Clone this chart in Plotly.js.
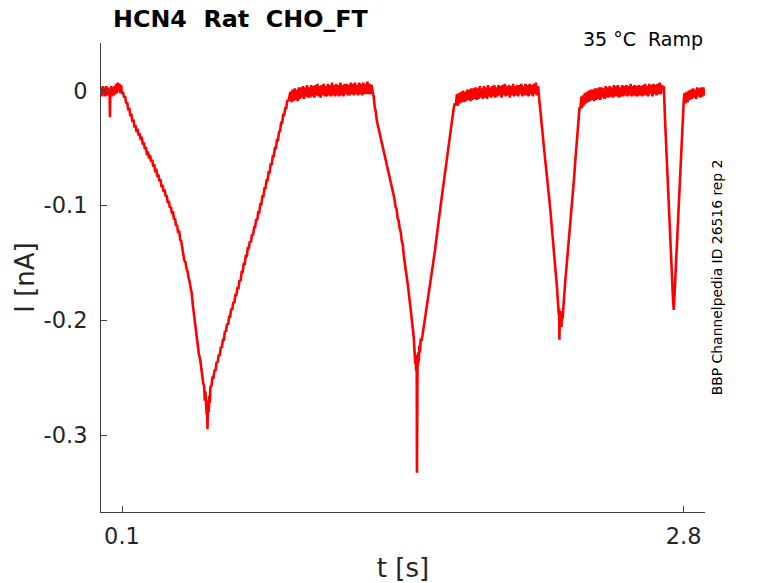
<!DOCTYPE html>
<html>
<head>
<meta charset="utf-8">
<script src="https://cdn.plot.ly/plotly-3.0.1.min.js"></script>
<style>html,body{margin:0;padding:0;background:#fff;}#chart{width:778px;height:583px;}</style>
</head>
<body>
<div id="chart"></div>
<script>
// ---- data (t in s, I in nA) ----
var baseT = [0.000,0.004,0.008,0.012,0.016,0.020,0.024,0.028,0.032,0.036,0.040,0.042,0.044,0.048,0.052,0.056,0.060,0.064,0.068,0.072,0.076,0.080,0.084,0.088,0.092,0.096,0.100];
var baseI = [0.003,-0.005,0.004,-0.004,0.003,-0.005,0.004,-0.004,0.003,-0.003,0.002,-0.023,-0.003,0.004,-0.005,0.003,-0.004,0.004,-0.003,0.006,-0.002,0.007,0.000,0.006,-0.002,0.005,-0.003];

var ramp1T = [0.105,0.110,0.115,0.120,0.125,0.130,0.135,0.140,0.145,0.150,0.155,0.160,0.165,0.170,0.175,0.180,0.185,0.190,0.195,0.200,0.205,0.210,0.215,0.220,0.225,0.230,0.235,0.240,0.245,0.250,0.255,0.260,0.265,0.270,0.275,0.280,0.285,0.290,0.295,0.300,0.305,0.310,0.315,0.320,0.325,0.330,0.335,0.340,0.345,0.350,0.355,0.360,0.365,0.370,0.375,0.380,0.385,0.390,0.395,0.400,0.405,0.410,0.415,0.420,0.425,0.430,0.435,0.440,0.445,0.450,0.455,0.460,0.465,0.470,0.475,0.480,0.485,0.490,0.495,0.498,0.501,0.503,0.505,0.507,0.509,0.511,0.513,0.515,0.517,0.519,0.522,
 0.525,0.530,0.535,0.540,0.545,0.550,0.555,0.560,0.565,0.570,0.575,0.580,0.585,0.590,0.595,0.600,0.605,0.610,0.615,0.620,0.625,0.630,0.635,0.640,0.645,0.650,0.655,0.660,0.665,0.670,0.675,0.680,0.685,0.690,0.695,0.700,0.705,0.710,0.715,0.720,0.725,0.730,0.735,0.740,0.745,0.750,0.755,0.760,0.765,0.770,0.775,0.780,0.785,0.790,0.795,0.800,0.805,0.810,0.815,0.820,0.825,0.830,0.835,0.840,0.845,0.850,0.855,0.860,0.865,0.870,0.875,0.880,0.885,0.890,0.895,0.900,0.905];
var ramp1I = [-0.001,-0.006,-0.005,-0.011,-0.010,-0.017,-0.015,-0.022,-0.020,-0.027,-0.025,-0.032,-0.030,-0.036,-0.033,-0.039,-0.037,-0.043,-0.040,-0.047,-0.045,-0.051,-0.049,-0.056,-0.053,-0.059,-0.056,-0.062,-0.060,-0.066,-0.064,-0.071,-0.068,-0.075,-0.073,-0.079,-0.077,-0.084,-0.082,-0.088,-0.086,-0.092,-0.091,-0.098,-0.096,-0.102,-0.101,-0.107,-0.105,-0.112,-0.111,-0.118,-0.117,-0.124,-0.122,-0.130,-0.131,-0.139,-0.143,-0.148,-0.149,-0.155,-0.157,-0.163,-0.166,-0.172,-0.176,-0.186,-0.193,-0.204,-0.208,-0.218,-0.222,-0.230,-0.233,-0.242,-0.246,-0.254,-0.258,-0.270,-0.262,-0.276,-0.268,-0.282,-0.274,-0.295,-0.278,-0.270,-0.280,-0.266,-0.272,
 -0.258,-0.257,-0.250,-0.250,-0.243,-0.244,-0.236,-0.237,-0.230,-0.231,-0.223,-0.224,-0.217,-0.217,-0.209,-0.210,-0.203,-0.204,-0.197,-0.197,-0.190,-0.191,-0.184,-0.185,-0.178,-0.178,-0.172,-0.172,-0.165,-0.166,-0.158,-0.158,-0.151,-0.151,-0.144,-0.144,-0.137,-0.137,-0.131,-0.132,-0.125,-0.126,-0.119,-0.119,-0.112,-0.113,-0.106,-0.106,-0.099,-0.099,-0.092,-0.092,-0.085,-0.085,-0.078,-0.078,-0.071,-0.071,-0.064,-0.064,-0.057,-0.057,-0.050,-0.050,-0.043,-0.043,-0.036,-0.035,-0.028,-0.028,-0.021,-0.021,-0.015,-0.015,-0.008,-0.009,-0.003];

var plat1T = [0.910,0.915,0.920,0.925,0.930,0.935,0.940,0.945,0.950,0.955,0.960,0.965,0.970,0.975,0.980,0.985,0.990,0.995,1.000,1.005,1.010,1.015,1.020,1.025,1.030,1.035,1.040,1.045,1.050,1.055,1.060,1.065,1.070,1.075,1.080,1.085,1.090,1.095,1.100,1.105,1.110,1.115,1.120,1.125,1.130,1.135,1.140,1.145,1.150,1.155,1.160,1.165,1.170,1.175,1.180,1.185,1.190,1.195,1.200,1.205,1.210,1.215,1.220,1.225,1.230,1.235,1.240,1.245,1.250,1.255,1.260,1.265,1.270,1.275,1.280,1.285,1.290,1.295,1.300];
var plat1I = [-0.001,-0.010,0.001,-0.009,0.002,-0.008,0.001,-0.009,0.003,-0.007,0.003,-0.006,0.004,-0.007,0.003,-0.005,0.005,-0.006,0.003,-0.006,0.005,-0.005,0.004,-0.006,0.005,-0.004,0.006,-0.005,0.004,-0.006,0.005,-0.004,0.006,-0.005,0.004,-0.005,0.006,-0.004,0.005,-0.005,0.007,-0.004,0.005,-0.005,0.006,-0.004,0.005,-0.005,0.007,-0.004,0.005,-0.005,0.006,-0.003,0.006,-0.004,0.005,-0.004,0.007,-0.003,0.006,-0.004,0.007,-0.003,0.005,-0.004,0.007,-0.003,0.006,-0.004,0.007,-0.003,0.006,-0.003,0.008,-0.003,0.006,-0.003,0.005];

var ramp2T = [1.305,1.310,1.315,1.320,1.325,1.330,1.335,1.340,1.345,1.350,1.355,1.360,1.365,1.370,1.375,1.380,1.385,1.390,1.395,1.400,1.405,1.410,1.415,1.420,1.425,1.430,1.435,1.440,1.445,1.450,1.455,1.460,1.465,1.470,1.475,1.480,1.485,1.490,1.495,1.500,1.503,1.506,1.508,1.510,1.512,1.514,1.516,1.517,1.518,1.519,1.521,1.523,1.525,1.527,1.530,1.533,1.536,1.540,1.545,1.550,1.555,1.560,1.565,1.570,1.575,1.580,1.585,1.590,1.595,1.600,1.605,1.610,1.615,1.620,1.625,1.630,1.635,1.640,1.645,1.650,1.655,1.660,1.665,1.670,1.675,1.680,1.685,1.690,1.695,1.700,1.705];
var ramp2I = [-0.001,-0.005,-0.014,-0.018,-0.026,-0.030,-0.036,-0.038,-0.044,-0.046,-0.052,-0.054,-0.060,-0.062,-0.067,-0.070,-0.076,-0.078,-0.084,-0.086,-0.092,-0.094,-0.101,-0.103,-0.111,-0.113,-0.120,-0.123,-0.131,-0.134,-0.144,-0.150,-0.155,-0.164,-0.170,-0.178,-0.185,-0.194,-0.200,-0.210,-0.216,-0.226,-0.222,-0.238,-0.230,-0.244,-0.232,-0.246,-0.333,-0.244,-0.233,-0.240,-0.228,-0.236,-0.222,-0.228,-0.216,-0.218,-0.213,-0.207,-0.202,-0.196,-0.190,-0.183,-0.178,-0.170,-0.165,-0.158,-0.153,-0.145,-0.139,-0.131,-0.125,-0.117,-0.111,-0.103,-0.096,-0.089,-0.082,-0.075,-0.068,-0.060,-0.053,-0.046,-0.039,-0.033,-0.026,-0.020,-0.015,-0.011,-0.013];

var plat2T = [1.710,1.715,1.720,1.725,1.730,1.735,1.740,1.745,1.750,1.755,1.760,1.765,1.770,1.775,1.780,1.785,1.790,1.795,1.800,1.805,1.810,1.815,1.820,1.825,1.830,1.835,1.840,1.845,1.850,1.855,1.860,1.865,1.870,1.875,1.880,1.885,1.890,1.895,1.900,1.905,1.910,1.915,1.920,1.925,1.930,1.935,1.940,1.945,1.950,1.955,1.960,1.965,1.970,1.975,1.980,1.985,1.990,1.995,2.000,2.005,2.010,2.015,2.020,2.025,2.030,2.035,2.040,2.045,2.050,2.055,2.060,2.065,2.070,2.075,2.080,2.085,2.090,2.095,2.100];
var plat2I = [-0.003,-0.013,-0.002,-0.011,-0.001,-0.010,0.000,-0.010,-0.001,-0.009,0.001,-0.008,0.001,-0.009,0.002,-0.008,0.002,-0.007,0.003,-0.008,0.002,-0.007,0.004,-0.006,0.002,-0.007,0.004,-0.006,0.003,-0.007,0.005,-0.005,0.003,-0.006,0.004,-0.005,0.005,-0.006,0.003,-0.005,0.005,-0.004,0.004,-0.006,0.005,-0.004,0.006,-0.005,0.004,-0.004,0.005,-0.006,0.004,-0.004,0.006,-0.005,0.004,-0.004,0.005,-0.005,0.005,-0.003,0.006,-0.005,0.004,-0.004,0.006,-0.004,0.005,-0.005,0.006,-0.003,0.005,-0.005,0.006,-0.003,0.007,-0.004,0.004];

var ramp3T = [2.105,2.110,2.115,2.120,2.125,2.130,2.135,2.140,2.145,2.150,2.155,2.160,2.165,2.170,2.175,2.180,2.185,2.190,2.195,2.198,2.200,2.202,2.203,2.205,2.207,2.209,2.211,2.213,2.215,2.218,2.222,2.226,2.231,2.236,2.241,2.246,2.252,2.257,2.263,2.269,2.274,2.279,2.284,2.288,2.292,2.296,2.300,2.304];
var ramp3I = [-0.006,-0.017,-0.026,-0.037,-0.046,-0.053,-0.061,-0.069,-0.077,-0.085,-0.095,-0.105,-0.116,-0.125,-0.137,-0.147,-0.158,-0.168,-0.180,-0.186,-0.195,-0.190,-0.217,-0.200,-0.192,-0.204,-0.196,-0.206,-0.194,-0.199,-0.186,-0.178,-0.166,-0.156,-0.146,-0.136,-0.124,-0.113,-0.100,-0.087,-0.075,-0.062,-0.050,-0.040,-0.030,-0.021,-0.014,-0.016];

var plat3T = [2.308,2.312,2.316,2.320,2.325,2.330,2.335,2.340,2.345,2.350,2.355,2.360,2.365,2.370,2.375,2.380,2.385,2.390,2.395,2.400,2.405,2.410,2.415,2.420,2.425,2.430,2.435,2.440,2.445,2.450,2.455,2.460,2.465,2.470,2.475,2.480,2.485,2.490,2.495,2.500,2.505,2.510,2.515,2.520,2.525,2.530,2.535,2.540,2.545,2.550,2.555,2.560,2.565,2.570,2.575,2.580,2.585,2.590,2.595,2.600,2.605,2.610,2.615,2.620,2.625,2.630,2.635,2.640,2.645,2.650,2.655,2.660,2.665,2.670,2.675,2.680,2.685,2.690,2.695,2.700];
var plat3I = [-0.005,-0.015,-0.004,-0.013,-0.002,-0.011,-0.001,-0.010,0.000,-0.009,0.001,-0.008,0.001,-0.009,0.002,-0.008,0.002,-0.007,0.003,-0.008,0.003,-0.006,0.002,-0.007,0.004,-0.006,0.003,-0.006,0.004,-0.005,0.003,-0.006,0.005,-0.005,0.004,-0.005,0.005,-0.006,0.003,-0.005,0.005,-0.005,0.004,-0.004,0.005,-0.005,0.004,-0.004,0.006,-0.005,0.004,-0.004,0.005,-0.005,0.004,-0.005,0.005,-0.004,0.004,-0.005,0.005,-0.004,0.006,-0.004,0.004,-0.005,0.006,-0.003,0.005,-0.005,0.006,-0.003,0.005,-0.004,0.006,-0.003,0.007,-0.003,0.005,0.003];

var ramp4T = [2.705,2.712,2.720,2.728,2.736,2.744,2.750,2.753,2.757,2.762,2.768,2.774,2.780,2.786,2.792,2.798,2.801];
var ramp4I = [0.003,-0.030,-0.065,-0.100,-0.133,-0.165,-0.185,-0.191,-0.175,-0.155,-0.130,-0.106,-0.082,-0.058,-0.035,-0.013,-0.008];

var plat4T = [2.805,2.810,2.815,2.820,2.825,2.830,2.835,2.840,2.845,2.850,2.855,2.860,2.865,2.870,2.875,2.880,2.885,2.890,2.895,2.900,2.904];
var plat4I = [-0.002,-0.011,-0.001,-0.010,0.000,-0.008,0.001,-0.007,0.002,-0.006,0.001,-0.007,0.003,-0.005,0.002,-0.006,0.003,-0.005,0.003,-0.004,0.001];

var xTickVals = [0.1, 2.8];
var xTickText = ['0.1', '2.8'];
var yTickVals = [0, -0.1, -0.2, -0.3];
var yTickText = ['0', '-0.1', '-0.2', '-0.3'];

var titleText = 'HCN4  Rat  CHO_FT';
var condText = '35 °C  Ramp';
var sideText = 'BBP Channelpedia ID 26516 rep 2';

// ---- build trace ----
var tAll = [].concat(baseT, ramp1T, plat1T, ramp2T, plat2T, ramp3T, plat3T, ramp4T, plat4T);
var iAll = [].concat(baseI, ramp1I, plat1I, ramp2I, plat2I, ramp3I, plat3I, ramp4I, plat4I);

var FONT = 'DejaVu Sans, Liberation Sans, sans-serif';
var data = [{
  x: tAll, y: iAll, type: 'scatter', mode: 'lines',
  line: {color: '#ff0000', width: 2.6}, hoverinfo: 'skip'
}];

var layout = {
  width: 778, height: 583,
  margin: {l: 101, r: 73, t: 43, b: 71, pad: 0},
  paper_bgcolor: '#ffffff', plot_bgcolor: '#ffffff',
  showlegend: false,
  font: {family: FONT, color: '#262626'},
  title: {
    text: titleText, xref: 'container', yref: 'container',
    x: 0.309, xanchor: 'center', y: 0.968, yanchor: 'middle',
    font: {family: FONT, size: 23.8, weight: 'bold', color: '#000000'}
  },
  xaxis: {
    range: [-0.001, 2.903], showgrid: false, zeroline: false,
    showline: true, linecolor: '#404040', linewidth: 1, mirror: false,
    ticks: 'inside', ticklen: 6, tickcolor: '#404040', tickwidth: 1,
    tickvals: xTickVals, ticktext: xTickText,
    tickfont: {family: FONT, size: 22.5, color: '#262626'},
    ticklabelstandoff: 4,
    title: {text: 't [s]', font: {family: FONT, size: 26, color: '#262626'}, standoff: 10}
  },
  yaxis: {
    range: [-0.3671, 0.0416], showgrid: false, zeroline: false,
    showline: true, linecolor: '#404040', linewidth: 1, mirror: false,
    ticks: 'inside', ticklen: 6, tickcolor: '#404040', tickwidth: 1,
    tickvals: yTickVals, ticktext: yTickText,
    tickfont: {family: FONT, size: 22.5, color: '#262626'},
    ticklabelstandoff: 8,
    title: {text: 'I [nA]', font: {family: FONT, size: 26, color: '#262626'}, standoff: 1}
  },
  annotations: [
    {text: condText, xref: 'paper', yref: 'paper', x: 1, y: 1.008,
     xanchor: 'right', yanchor: 'middle', showarrow: false,
     font: {family: FONT, size: 19, color: '#000000'}},
    {text: sideText, xref: 'paper', yref: 'paper', x: 1.0199, y: 0.5006,
     xanchor: 'center', yanchor: 'middle', textangle: -90, showarrow: false,
     font: {family: FONT, size: 13.9, color: '#000000'}}
  ]
};

Plotly.newPlot('chart', data, layout, {staticPlot: true, displayModeBar: false});
</script>
</body>
</html>
